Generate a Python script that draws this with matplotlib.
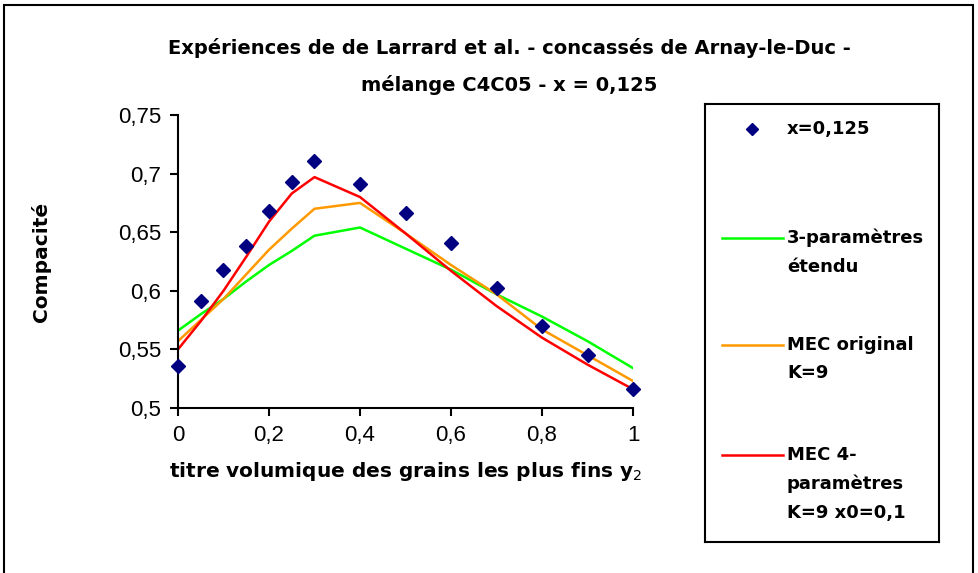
import numpy as np
import matplotlib.pyplot as plt
from matplotlib.patches import Rectangle
from matplotlib.ticker import FuncFormatter

# titre volumique des grains les plus fins
y2_exp = [0, 0.05, 0.1, 0.15, 0.2, 0.25, 0.3, 0.4, 0.5, 0.6, 0.7, 0.8, 0.9, 1.0]
compacite_exp = [0.536, 0.591, 0.618, 0.638, 0.668, 0.693, 0.711, 0.691,
                 0.666, 0.641, 0.602, 0.570, 0.545, 0.516]

y2_mod = [0, 0.05, 0.1, 0.15, 0.2, 0.25, 0.3, 0.4, 0.5, 0.6, 0.7, 0.8, 0.9, 1.0]
trois_param = [0.566, 0.580, 0.593, 0.608, 0.622, 0.634, 0.647, 0.654,
               0.636, 0.618, 0.597, 0.578, 0.557, 0.534]
mec_original = [0.557, 0.575, 0.593, 0.614, 0.635, 0.653, 0.670, 0.675,
                0.649, 0.622, 0.597, 0.567, 0.545, 0.523]
mec_4param = [0.550, 0.574, 0.600, 0.629, 0.659, 0.683, 0.697, 0.680,
              0.649, 0.617, 0.587, 0.560, 0.537, 0.516]

labels = ["x=0,125", "3-paramètres\nétendu", "MEC original\nK=9",
          "MEC 4-\nparamètres\nK=9 x0=0,1"]
colors = ["#000080", "#00FF00", "#FF9900", "#FF0000"]

fig = plt.figure(figsize=(9.79, 5.73), dpi=100)
fig.patches.append(Rectangle((4 / 979, -0.05), 969 / 979, 1.0 - 5 / 573 + 0.05,
                             transform=fig.transFigure, fill=False,
                             edgecolor="black", linewidth=1.5))

ax = fig.add_axes([0.1818, 0.2880, 0.4648, 0.5113])
ax.plot(y2_mod, trois_param, color=colors[1], linewidth=1.8)
ax.plot(y2_mod, mec_original, color=colors[2], linewidth=1.8)
ax.plot(y2_mod, mec_4param, color=colors[3], linewidth=1.8)
ax.plot(y2_exp, compacite_exp, linestyle="none", marker="D", markersize=7,
        color=colors[0], clip_on=False, zorder=5)

ax.set_xlim(0, 1)
ax.set_ylim(0.5, 0.75)
ax.set_xticks(np.arange(0, 1.01, 0.2))
ax.set_yticks(np.arange(0.5, 0.751, 0.05))
fmt = FuncFormatter(lambda v, p: ("%g" % round(v, 2)).replace(".", ","))
ax.xaxis.set_major_formatter(fmt)
ax.yaxis.set_major_formatter(fmt)
ax.spines["top"].set_visible(False)
ax.spines["right"].set_visible(False)
for s in ["left", "bottom"]:
    ax.spines[s].set_linewidth(1.5)
ax.tick_params(direction="out", length=6, width=1.5, labelsize=16, pad=6)
for t in ax.get_xticklabels() + ax.get_yticklabels():
    t.set_fontfamily("Liberation Sans")

ax.set_xlabel("titre volumique des grains les plus fins y$_2$",
              fontsize=14.5, fontweight="bold", labelpad=10)
ax.set_ylabel("Compacité", fontsize=14.5, fontweight="bold", labelpad=48)

fig.text(0.52, 1 - 48 / 573, "Expériences de de Larrard et al. - concassés de Arnay-le-Duc -",
         ha="center", va="center", fontsize=14, fontweight="bold")
fig.text(0.52, 1 - 85 / 573, "mélange C4C05 - x = 0,125",
         ha="center", va="center", fontsize=14, fontweight="bold")

# legende
lg = fig.add_axes([705 / 979, 1 - 542 / 573, 234 / 979, 438 / 573])
lg.set_xlim(705, 939)
lg.set_ylim(542, 104)
lg.set_xticks([])
lg.set_yticks([])
for s in lg.spines.values():
    s.set_linewidth(1.5)
lg.plot([752], [129], marker="D", markersize=6, color=colors[0], linestyle="none")
entry_y = [129, 238, 345, 455]
for i, (lab, yy) in enumerate(zip(labels, entry_y)):
    if i > 0:
        lg.plot([722, 783], [yy, yy], color=colors[i], linewidth=1.8)
    lg.text(787, yy - 9, lab, ha="left", va="top", fontsize=13,
            fontweight="bold", linespacing=1.75)

fig.savefig("out.png", dpi=100)
